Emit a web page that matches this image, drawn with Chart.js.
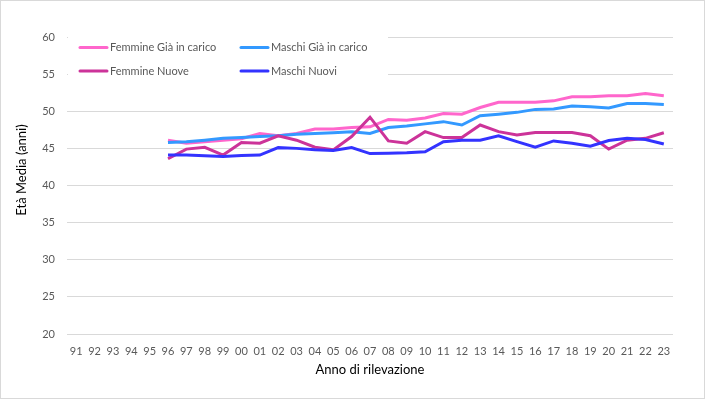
<!DOCTYPE html>
<html>
<head>
<meta charset="utf-8">
<script src="https://cdn.jsdelivr.net/npm/chart.js@4"></script>
<style>
  html, body { margin: 0; padding: 0; background: #fff; }
  #wrap { width: 705px; height: 399px; }
</style>
</head>
<body>
<div id="wrap"><canvas id="ageChart"></canvas></div>
<script>
const years = ['91','92','93','94','95','96','97','98','99','00','01','02','03','04','05','06','07','08','09','10','11','12','13','14','15','16','17','18','19','20','21','22','23'];

// no data before 1996
const femmineGia = [null, null, null, null, null,
  46.1, 45.7, 45.9, 46.1, 46.3, 47.0, 46.7, 47.0, 47.6, 47.6, 47.8, 47.9, 48.9, 48.8,
  49.1, 49.7, 49.6, 50.5, 51.2, 51.2, 51.2, 51.4, 51.95, 51.95, 52.1, 52.1, 52.4, 52.1];
const maschiGia = [null, null, null, null, null,
  45.8, 45.9, 46.1, 46.35, 46.45, 46.6, 46.7, 46.9, 47.0, 47.1, 47.25, 47.0, 47.8, 48.0,
  48.3, 48.6, 48.15, 49.4, 49.6, 49.85, 50.25, 50.3, 50.7, 50.6, 50.45, 51.05, 51.05, 50.9];
const femmineNuove = [null, null, null, null, null,
  43.6, 44.9, 45.15, 44.1, 45.8, 45.7, 46.7, 46.1, 45.15, 44.8, 46.6, 49.2, 46.0, 45.7,
  47.25, 46.45, 46.45, 48.15, 47.25, 46.8, 47.15, 47.15, 47.15, 46.7, 44.9, 46.1, 46.35, 47.1];
const maschiNuovi = [null, null, null, null, null,
  44.1, 44.1, 44.0, 43.9, 44.05, 44.1, 45.1, 45.0, 44.8, 44.7, 45.1, 44.3, 44.35, 44.4,
  44.55, 45.9, 46.1, 46.1, 46.7, 45.9, 45.15, 46.0, 45.7, 45.3, 46.05, 46.35, 46.2, 45.6];

const yMin = 20, yMax = 60, yStep = 5;

Chart.defaults.font.family = 'Lato, "Liberation Sans", sans-serif';
Chart.defaults.color = '#595959';

// legend inside the plot, two columns, white box over the gridlines
const insideLegend = {
  id: 'insideLegend',
  afterDraw(chart) {
    const c = chart.ctx;
    const area = chart.chartArea;
    c.save();
    c.fillStyle = '#fff';
    c.fillRect(area.left + 1, area.top - 6, 320, 50);
    c.font = '11px Lato, "Liberation Sans", sans-serif';
    c.textBaseline = 'middle';
    c.lineWidth = 3;
    c.lineCap = 'round';
    chart.data.datasets.forEach((ds, i) => {
      const x = area.left + 13 + (i % 2) * 161;
      const y = area.top + 10.5 + Math.floor(i / 2) * 23.5;
      c.strokeStyle = ds.borderColor;
      c.beginPath();
      c.moveTo(x, y);
      c.lineTo(x + 27, y);
      c.stroke();
      c.fillStyle = '#595959';
      c.fillText(ds.label, x + 30, y);
    });
    c.restore();
  }
};

// y title and outer frame
const extras = {
  id: 'extras',
  afterDraw(chart) {
    const c = chart.ctx;
    c.save();
    c.translate(22, 170);
    c.rotate(-Math.PI / 2);
    c.font = '13px Lato, "Liberation Sans", sans-serif';
    c.fillStyle = '#000';
    c.textAlign = 'center';
    c.textBaseline = 'middle';
    c.fillText('Età Media (anni)', 0, 0);
    c.restore();
    c.save();
    c.strokeStyle = '#d9d9d9';
    c.lineWidth = 1;
    c.strokeRect(0.5, 0.5, chart.width - 1, chart.height - 1);
    c.restore();
  }
};

const ctx = document.getElementById('ageChart').getContext('2d');
const ageChart = new Chart(ctx, {
  type: 'line',
  data: {
    labels: years,
    datasets: [
      { label: 'Femmine Già in carico', data: femmineGia, borderColor: '#FF66CC', order: 4 },
      { label: 'Maschi Già in carico', data: maschiGia, borderColor: '#3399FF', order: 3 },
      { label: 'Femmine Nuove', data: femmineNuove, borderColor: '#CC3399', order: 2 },
      { label: 'Maschi Nuovi', data: maschiNuovi, borderColor: '#3333FF', order: 1 }
    ]
  },
  options: {
    responsive: true,
    maintainAspectRatio: false,
    devicePixelRatio: 1,
    animation: false,
    datasets: {
      line: { borderWidth: 3, pointRadius: 0, tension: 0, fill: false, spanGaps: false }
    },
    layout: { padding: { top: 37, right: 32, bottom: 0, left: 0 } },
    plugins: {
      legend: { display: false },
      tooltip: { enabled: false }
    },
    scales: {
      x: {
        offset: true,
        grid: { display: false },
        border: { display: false },
        ticks: { font: { size: 11 }, color: '#595959', autoSkip: false, maxRotation: 0, padding: 3 },
        title: { display: true, text: 'Anno di rilevazione', color: '#000', font: { size: 13 }, padding: { top: 0, bottom: 21 } },
        afterFit: s => { s.height = 65; }
      },
      y: {
        min: yMin,
        max: yMax,
        ticks: { stepSize: yStep, font: { size: 11 }, color: '#595959', padding: 12 },
        grid: { color: '#d9d9d9', drawTicks: false },
        border: { display: false },
        afterFit: s => { s.width = 67; }
      }
    }
  },
  plugins: [insideLegend, extras]
});
</script>
</body>
</html>
